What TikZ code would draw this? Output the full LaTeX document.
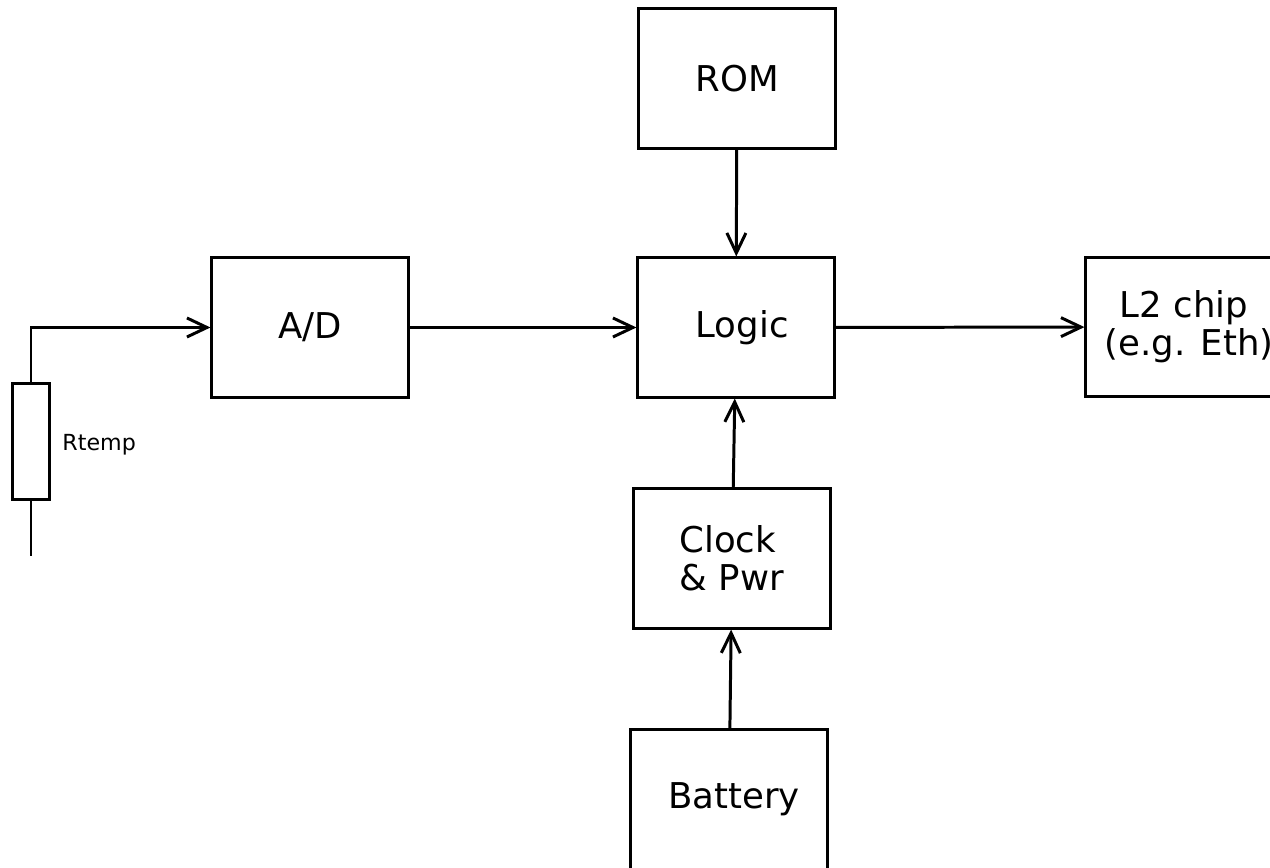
\documentclass[tikz,border=0pt]{standalone}
\usepackage{fontspec}
\setmainfont{DejaVu Sans}
\usetikzlibrary{arrows.meta}
\begin{document}
\begin{tikzpicture}[x=0.01cm,y=-0.01cm, line width=0.85pt, >={Straight Barb[length=2mm,width=1.9mm]},
  block/.style={draw, minimum width=1.96cm, minimum height=1.39cm, align=center, inner sep=0pt, font=\fontsize{10.1pt}{10.8pt}\selectfont}]
\useasboundingbox (0,0) rectangle (1270,868);
\node[block] (rom) at (737,78.5) {ROM};
\node[block] (ad) at (310,327.5) {A/D};
\node[block] (logic) at (736,327.5) {\hspace{3.5pt}Logic};
\node[block] (l2) at (1184,327) {L2 chip\\\hspace{3pt}(e.g. Eth)};
\node[block] (clock) at (732,558.5) {\hspace{-2.5pt}Clock\\\& Pwr};
\node[block] (battery) at (729,799.5) {\hspace{3pt}Battery};

\node[draw, minimum width=0.36cm, minimum height=1.15cm, inner sep=0pt] (rtemp) at (31,441.5) {};
\node[anchor=west, inner sep=0pt, font=\fontsize{6.3pt}{7pt}\selectfont] (rlabel) at (61,445) {Rtemp};
\coordinate (rend) at (31,556);
\draw[->] (rtemp.north) |- (ad.west);
\draw (rtemp.south) -- (rend);

\draw[->] (ad) -- (logic);
\draw[->] (logic) -- (l2);
\draw[->] (rom) -- (logic);
\draw[->] (clock) -- (logic);
\draw[->] (battery) -- (clock);
\end{tikzpicture}
\end{document}
